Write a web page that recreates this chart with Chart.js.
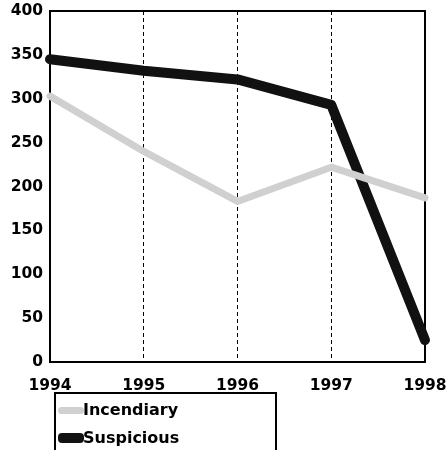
<!DOCTYPE html>
<html>
<head>
<meta charset="utf-8">
<script src="https://cdn.jsdelivr.net/npm/chart.js@4/dist/chart.umd.min.js"></script>
<style>
    body { margin: 0; background: #fff; }
    #wrap { position: relative; width: 447px; height: 450px; overflow: hidden; }
    #legend {
        position: absolute; left: 54px; top: 392px; width: 219px; height: 70px;
        border: 2px solid #000; border-bottom: none;
        font: bold 16px "DejaVu Sans", sans-serif; color: #000;
    }
    .item { position: absolute; left: 0; height: 20px; line-height: 20px; }
    .item span.mark { position: absolute; left: 2px; width: 26px; border-radius: 4px; }
    .item span.txt { position: absolute; left: 27px; white-space: nowrap; }
</style>
</head>
<body>
<div id="wrap">
    <canvas id="chart" width="447" height="450"></canvas>
    <div id="legend"></div>
</div>
<script>
// ===============================
// DATA
// ===============================
const years = ['1994', '1995', '1996', '1997', '1998'];
const incendiary = [303, 240, 183, 222, 187];
const suspicious = [345, 332, 322, 293, 25];
const yTicks = [0, 50, 100, 150, 200, 250, 300, 350, 400];

const GRAY = '#d0d0d0';
const BLACK = '#111111';
const TICK_FONT = { family: 'DejaVu Sans', size: 15.5, weight: 'bold' };

// box round the plot area
const frame = {
    id: 'frame',
    beforeDatasetsDraw(chart) {
        const a = chart.chartArea;
        const ctx = chart.ctx;
        ctx.save();
        ctx.strokeStyle = '#000';
        ctx.lineWidth = 2;
        ctx.strokeRect(a.left, a.top, a.right - a.left, a.bottom - a.top);
        ctx.restore();
    }
};

const ctx = document.getElementById('chart').getContext('2d');

new Chart(ctx, {
    type: 'line',
    data: {
        labels: years,
        datasets: [
            {
                label: 'Incendiary',
                data: incendiary,
                borderColor: GRAY,
                borderWidth: 7,
                borderCapStyle: 'round',
                borderJoinStyle: 'round',
                pointRadius: 0,
                tension: 0,
                clip: false
            },
            {
                label: 'Suspicious',
                data: suspicious,
                borderColor: BLACK,
                borderWidth: 10,
                borderCapStyle: 'round',
                borderJoinStyle: 'round',
                pointRadius: 0,
                tension: 0,
                clip: false
            }
        ]
    },
    options: {
        responsive: false,
        animation: false,
        layout: { padding: { top: 11, right: 22, left: 0, bottom: 0 } },
        plugins: {
            legend: { display: false },
            tooltip: { enabled: false }
        },
        scales: {
            x: {
                offset: false,
                afterFit(scale) {
                    scale.height = 88;
                    scale.paddingLeft = 0;
                    scale.paddingRight = 0;
                },
                border: { display: false, dash: [4, 3] },
                grid: {
                    drawTicks: false,
                    color: (c) => (c.index === 0 || c.index === years.length - 1) ? 'rgba(0,0,0,0)' : '#000',
                    lineWidth: 1
                },
                ticks: {
                    color: '#000',
                    padding: 15,
                    maxRotation: 0,
                    autoSkip: false,
                    font: TICK_FONT
                }
            },
            y: {
                min: 0,
                max: 400,
                afterFit(scale) {
                    scale.width = 50;
                    scale.paddingTop = 0;
                    scale.paddingBottom = 0;
                },
                afterBuildTicks(scale) { scale.ticks = yTicks.map(v => ({ value: v })); },
                border: { display: false },
                grid: { display: false, drawTicks: false },
                ticks: {
                    color: '#000',
                    padding: 7,
                    font: TICK_FONT
                }
            }
        }
    },
    plugins: [frame]
});

// ===============================
// LEGEND
// ===============================
const legend = document.getElementById('legend');
[
    { name: 'Incendiary', color: GRAY, h: 7, top: 6 },
    { name: 'Suspicious', color: BLACK, h: 10, top: 34 }
].forEach(it => {
    const row = document.createElement('div');
    row.className = 'item';
    row.style.top = it.top + 'px';
    const mark = document.createElement('span');
    mark.className = 'mark';
    mark.style.height = it.h + 'px';
    mark.style.top = (10 - it.h / 2) + 'px';
    mark.style.background = it.color;
    const txt = document.createElement('span');
    txt.className = 'txt';
    txt.textContent = it.name;
    row.appendChild(mark);
    row.appendChild(txt);
    legend.appendChild(row);
});
</script>
</body>
</html>
